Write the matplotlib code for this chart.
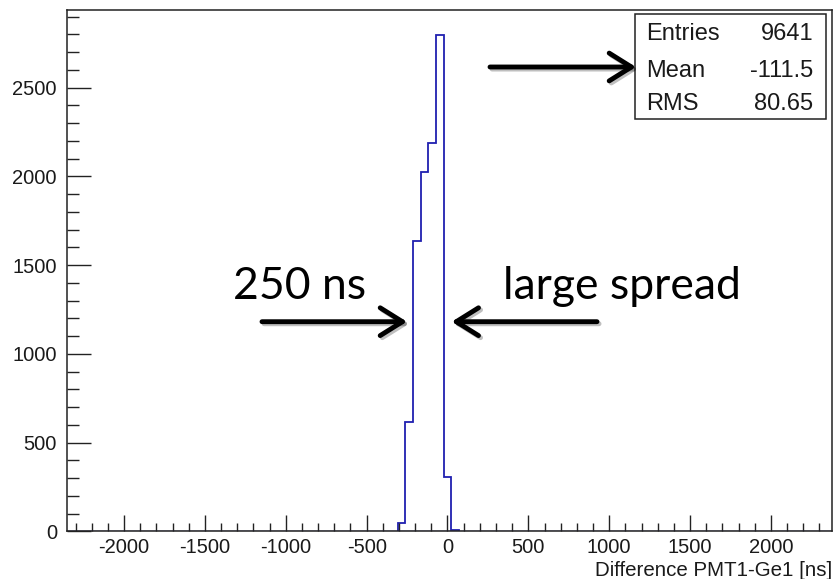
import matplotlib
matplotlib.use("Agg")
import matplotlib.pyplot as plt
import matplotlib.patheffects as pe
from matplotlib.patches import Rectangle, FancyArrowPatch
from matplotlib.ticker import MultipleLocator
import numpy as np

plt.rcParams["axes.unicode_minus"] = False

# ---- data ----
bin_centers = [-285.0, -237.5, -190.0, -142.5, -95.0, -47.5, 0.0, 47.5]
counts = [45, 616, 1637, 2026, 2189, 2794, 306, 9]
bin_width = 47.5
x_range = (-2355, 2378)
y_max = 2937
stats_labels = ["Entries", "Mean", "RMS"]
stats_values = ["9641", "-111.5", "80.65"]
x_label = "Difference PMT1-Ge1 [ns]"
note_left = "250 ns"
note_right = "large spread"

W, H = 835, 579
fig = plt.figure(figsize=(W / 100, H / 100), dpi=100)
fig.patch.set_facecolor("white")

def fx(px):
    return px / W

def fy(py):
    return 1 - py / H

ax = fig.add_axes([fx(66.7), fy(531.3), fx(832) - fx(66.7), fy(10) - fy(531.3)])

centers = np.array(bin_centers)
edges = np.concatenate([centers - bin_width / 2, [centers[-1] + bin_width / 2]])
ax.stairs(counts, edges, color="#2020b0", lw=1.3, baseline=0)
ax.plot(x_range, [0, 0], color="#2020b0", lw=1.0)

ax.set_xlim(*x_range)
ax.set_ylim(0, y_max)

ax.xaxis.set_major_locator(MultipleLocator(500))
ax.xaxis.set_minor_locator(MultipleLocator(100))
ax.yaxis.set_major_locator(MultipleLocator(500))
ax.yaxis.set_minor_locator(MultipleLocator(100))

font = "Liberation Sans"
ax.tick_params(axis="x", which="major", direction="in", length=11.3, width=1.0,
               color="#222222", labelsize=14.5, pad=5, top=False)
ax.tick_params(axis="x", which="minor", direction="in", length=5.8, width=1.0,
               color="#222222", top=False)
ax.tick_params(axis="y", which="major", direction="in", length=17.3, width=1.0,
               color="#222222", labelsize=14.5, pad=7, right=False)
ax.tick_params(axis="y", which="minor", direction="in", length=8.4, width=1.0,
               color="#222222", right=False)
for lab in ax.get_xticklabels() + ax.get_yticklabels():
    lab.set_fontfamily(font)
    lab.set_color("#1a1a1a")

for sp in ax.spines.values():
    sp.set_linewidth(1.1)
    sp.set_color("#222222")

ax.set_xlabel(x_label, loc="right", fontsize=14.8, fontfamily=font, labelpad=3, color="#1a1a1a")

# stats box
box = Rectangle((fx(635), fy(119)), fx(826) - fx(635), fy(14) - fy(119),
                transform=fig.transFigure, fill=True, facecolor="white",
                edgecolor="#222222", lw=1.1, zorder=5)
fig.patches.append(box)
row_base = [40, 77.3, 110.5]
for lab, val, yb in zip(stats_labels, stats_values, row_base):
    fig.text(fx(646), fy(yb), lab, ha="left", va="baseline", fontsize=17,
             fontfamily=font, color="#1a1a1a", zorder=6)
    fig.text(fx(813), fy(yb), val, ha="right", va="baseline", fontsize=17,
             fontfamily=font, color="#1a1a1a", zorder=6)

# annotations
fig.text(fx(233), fy(299.3), note_left, ha="left", va="baseline", fontsize=32,
         fontfamily="Lato", color="black")
fig.text(fx(503), fy(299.3), note_right, ha="left", va="baseline", fontsize=32,
         fontfamily="Lato", color="black")

arrows = [((490, 67), (636, 67)), ((262, 321.7), (407, 321.7)), ((597, 321.7), (451.7, 321.7))]
for tail, tip in arrows:
    arr = fig.add_artist(FancyArrowPatch(
        (fx(tail[0]), fy(tail[1])), (fx(tip[0]), fy(tip[1])),
        transform=fig.transFigure,
        arrowstyle="->,head_length=0.8,head_width=0.5", mutation_scale=20,
        lw=3.5, color="black", shrinkA=0, shrinkB=0,
        capstyle="round", joinstyle="round", zorder=7))
    arr.set_path_effects([pe.SimpleLineShadow(offset=(1.5, -1.5), alpha=0.25), pe.Normal()])

fig.savefig("out.png", dpi=100, facecolor="white")
